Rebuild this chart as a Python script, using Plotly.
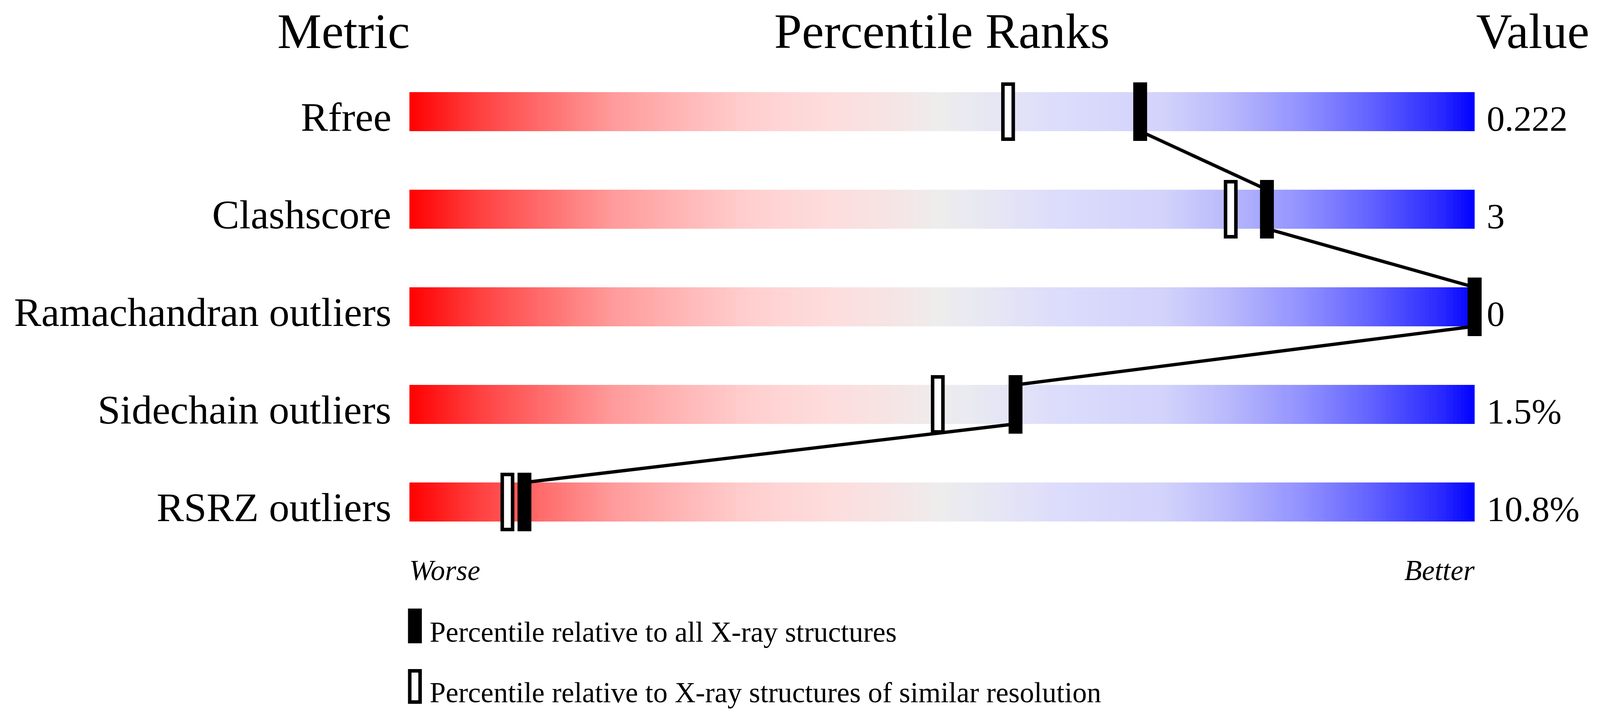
import numpy as np
import plotly.graph_objects as go

# ---- data ----
metrics = ["Rfree", "Clashscore", "Ramachandran outliers", "Sidechain outliers", "RSRZ outliers"]
values = ["0.222", "3", "0", "1.5%", "10.8%"]
pct_all = [68.6, 80.5, 100.0, 56.9, 10.8]        # percentile relative to all X-ray structures
pct_similar = [56.2, 77.1, 100.0, 49.6, 9.2]     # percentile relative to similar resolution
headers = ["Metric", "Percentile Ranks", "Value"]
scale_ends = ["Worse", "Better"]
legend_labels = ["Percentile relative to all X-ray structures",
                 "Percentile relative to X-ray structures of similar resolution"]

# ---- geometry: reference design (4506x1824) mapped onto the 4096x1824 viewport ----
REF_W = 4506
VIEW_W, VIEW_H = 4096, 1824
MARGIN = 8                       # default body margin of the page
GW, GH = VIEW_W - 2 * MARGIN, VIEW_H - 2 * MARGIN
SX = VIEW_W / REF_W              # horizontal squeeze
FS = SX                          # font scale

BAR_L_REF, PCT_PX_REF = 1153, 30.0
ROW0_REF, ROW_PITCH = 286, 250
BAR_HALF = 0.2
MARK_HALF_H = 0.3
MARK_HALF_W = 19.5 / PCT_PX_REF
FONT = "Liberation Serif, Times New Roman, serif"

def gx(rx):          # reference x -> div x (px)
    return rx * SX - MARGIN

def gy(ry):          # reference y -> div y (px)
    return ry - MARGIN

def X(rx):
    return gx(rx) / GW

def Y(ry):
    return 1 - gy(ry) / GH

x_range = [(MARGIN / SX - BAR_L_REF) / PCT_PX_REF, ((GW + MARGIN) / SX - BAR_L_REF) / PCT_PX_REF]
y_range = [(GH - gy(ROW0_REF)) / ROW_PITCH, -gy(ROW0_REF) / ROW_PITCH]

cscale = [
    [0.0, "#ff0000"], [0.065, "#ff4040"], [0.13, "#ff7070"], [0.19, "#ff9a9a"],
    [0.26, "#ffb8b8"], [0.32, "#ffcfcf"], [0.39, "#fedcdc"], [0.45, "#f6e4e4"],
    [0.5, "#ededed"], [0.55, "#e6e6f4"], [0.61, "#dcdcfc"], [0.71, "#d2d2fc"],
    [0.77, "#b8b8fc"], [0.84, "#9090ff"], [0.9, "#6464ff"], [0.97, "#2828ff"],
    [1.0, "#0000ff"],
]

n = len(metrics)
ncol = 300
xc = (np.arange(ncol) + 0.5) * 100.0 / ncol
y_edges, zrows = [], []
for i in range(n):
    y_edges += [i - BAR_HALF, i + BAR_HALF]
    zrows.append(xc)
    if i < n - 1:
        zrows.append(np.full(ncol, np.nan))
z = np.array(zrows)

fig = go.Figure()
fig.add_trace(go.Heatmap(x=xc, y=y_edges, z=z, colorscale=cscale, zmin=0, zmax=100,
                         showscale=False, hoverinfo="skip"))

# connecting line: bottom of bar i -> top of bar i+1 at the "all" percentiles
lx, ly = [], []
for i, p in enumerate(pct_all):
    if i > 0:
        lx.append(p); ly.append(i - BAR_HALF)
    if i < n - 1:
        lx.append(p); ly.append(i + BAR_HALF)
fig.add_trace(go.Scatter(x=lx, y=ly, mode="lines",
                         line=dict(color="black", width=8.5), hoverinfo="skip"))

BW = 9  # hollow border width
in_x = (BW / 2) / (PCT_PX_REF * SX)
in_y = (BW / 2) / ROW_PITCH
shapes = []
for i, p in enumerate(pct_similar):
    shapes.append(dict(type="rect", xref="x", yref="y",
                       x0=p - MARK_HALF_W + in_x, x1=p + MARK_HALF_W - in_x,
                       y0=i - MARK_HALF_H + in_y, y1=i + MARK_HALF_H - in_y,
                       fillcolor="white", line=dict(color="black", width=BW), layer="above"))
for i, p in enumerate(pct_all):
    shapes.append(dict(type="rect", xref="x", yref="y",
                       x0=p - MARK_HALF_W, x1=p + MARK_HALF_W,
                       y0=i - MARK_HALF_H, y1=i + MARK_HALF_H,
                       fillcolor="black", line=dict(width=0), layer="above"))
# legend glyphs
shapes.append(dict(type="rect", xref="paper", yref="paper",
                   x0=X(1149), x1=X(1188), y0=Y(1648), y1=Y(1559),
                   fillcolor="black", line=dict(width=0)))
shapes.append(dict(type="rect", xref="paper", yref="paper",
                   x0=X(1149) + (BW / 2) / GW, x1=X(1188) - (BW / 2) / GW,
                   y0=Y(1803) + (BW / 2) / GH, y1=Y(1714) - (BW / 2) / GH,
                   fillcolor="white", line=dict(color="black", width=BW)))

ann = []
def txt(text, x, y, size, xanchor, yanchor="middle", yref="paper", italic=False):
    ann.append(dict(text=text, x=x, y=y, xref="paper", yref=yref, showarrow=False,
                    xanchor=xanchor, yanchor=yanchor,
                    font=dict(family=FONT, size=size, color="black",
                              style="italic" if italic else "normal")))

# headers
txt(headers[0], X(968), 1.0, 140 * FS, "center", yanchor="top")
txt(headers[1], X(BAR_L_REF + 50 * PCT_PX_REF), 1.0, 140 * FS, "center", yanchor="top")
txt(headers[2], X(4155), 1.0, 140 * FS, "left", yanchor="top")
# rows (baseline near bar bottom)
LABEL_FS, VALUE_FS = 104.5, 92
lab_off = (49 - 0.3375 * LABEL_FS) / ROW_PITCH
val_off = (49 - 0.3375 * VALUE_FS) / ROW_PITCH
for i in range(n):
    txt(metrics[i], X(1104), i + lab_off, LABEL_FS, "right", yref="y")
    txt(values[i], X(4185), i + val_off, VALUE_FS, "left", yref="y")
# worse / better
txt(scale_ends[0], X(BAR_L_REF - 2), Y(1461), 81 * FS, "left", italic=True)
txt(scale_ends[1], X(BAR_L_REF + 100 * PCT_PX_REF + 2), Y(1461), 81 * FS, "right", italic=True)
# legend text
txt(legend_labels[0], X(1208), Y(1619), 81 * FS, "left")
txt(legend_labels[1], X(1208), Y(1774), 81 * FS, "left")

fig.update_layout(
    width=GW, height=GH, margin=dict(l=0, r=0, t=0, b=0),
    paper_bgcolor="white", plot_bgcolor="white", showlegend=False,
    xaxis=dict(range=x_range, visible=False, fixedrange=True),
    yaxis=dict(range=y_range, visible=False, fixedrange=True),
    shapes=shapes, annotations=ann,
)
fig.write_html("out.html")
